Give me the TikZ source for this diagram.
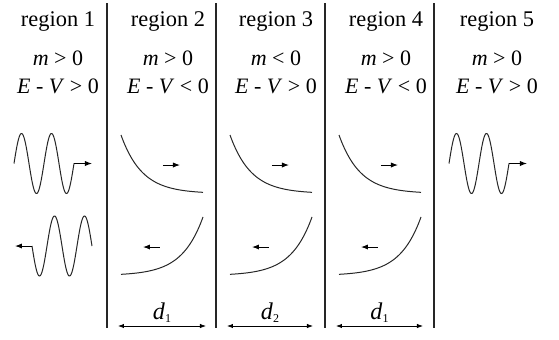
\documentclass[tikz,border=0pt]{standalone}
\usepackage{fontspec}
\setmainfont{Liberation Serif}
\usetikzlibrary{arrows.meta,positioning,calc}

\begin{document}
\begin{tikzpicture}[x=0.5pt,y=-0.5pt,
  divider/.style={line width=1.3pt,black!85},
  curve/.style={line width=0.5pt,black!85},
  arr/.style={-{Latex[length=3.5pt,width=2.6pt]},line width=0.5pt},
  dim/.style={{Latex[length=3pt,width=2.2pt]}-{Latex[length=3pt,width=2.2pt]},line width=0.4pt},
  hdr/.style={font=\fontsize{11.2}{13}\selectfont,anchor=base,inner sep=0pt},
  cond/.style={font=\fontsize{11}{13}\selectfont,anchor=base,inner sep=0pt}
]
  \useasboundingbox (0,0) rectangle (559,339);

  % Dividers between the regions
  \foreach \x in {107,216,325,434}
    \draw[divider] (\x,3) -- (\x,328);

  % Headers and conditions
  \foreach \i/\x/\ms/\es in {1/58/>/>,2/168/>/<,3/276/</>,4/386/>/<,5/497/>/>}{
    \node[hdr] (reg\i) at (\x,26) {region \i};
    \node[cond] (mass\i) at (\x,65) {\textit{m} \ms{} 0};
    \node[cond] (ener\i) at (\x,93) {\textit{E} - \textit{V} \es{} 0};
  }

  % Region 1: oscillating waves
  \draw[curve] plot[domain=14:74,samples=90] (\x,{163.5-30*sin(12*(\x-14))});
  \coordinate (w1a) at (74,163.5);
  \coordinate (w1b) at (92,163.5);
  \draw[arr] (w1a) -- (w1b);

  \draw[curve] plot[domain=32:92,samples=90] (\x,{246+30*sin(12*(\x-32))});
  \coordinate (w2a) at (32,246);
  \coordinate (w2b) at (15,246);
  \draw[arr] (w2a) -- (w2b);

  % Region 5: transmitted wave
  \draw[curve] plot[domain=449:509,samples=90] (\x,{163.5-30*sin(12*(\x-449))});
  \coordinate (w5a) at (509,163.5);
  \coordinate (w5b) at (527,163.5);
  \draw[arr] (w5a) -- (w5b);

  % Regions 2-4: evanescent parts
  \foreach \o in {0,109,218}{
    \draw[curve] plot[domain=121:203,samples=60] (\x+\o,{193.5-58.5*exp(-(\x-121)/21)});
    \draw[curve] plot[domain=121:203,samples=60] (\x+\o,{275.5-58.5*exp(-(203-\x)/21)});
    \coordinate (ra\o) at (163+\o,165);
    \coordinate (rb\o) at (180+\o,165);
    \draw[arr] (ra\o) -- (rb\o);
    \coordinate (la\o) at (160+\o,247);
    \coordinate (lb\o) at (143+\o,247);
    \draw[arr] (la\o) -- (lb\o);
  }

  % Widths
  \foreach \i/\a/\b/\d in {2/118/206/1,3/227/313/2,4/336/423/1}{
    \coordinate (dl\i) at (\a,326);
    \coordinate (dr\i) at (\b,326);
    \draw[dim] (dl\i) -- (dr\i);
    \node[cond,font=\fontsize{12}{13}\selectfont] (wd\i) at ($(dl\i)!0.5!(dr\i)+(0,-7)$) {\textit{d}\raisebox{-0.35ex}{\fontsize{6}{7}\selectfont \d}};
  }
\end{tikzpicture}
\end{document}
